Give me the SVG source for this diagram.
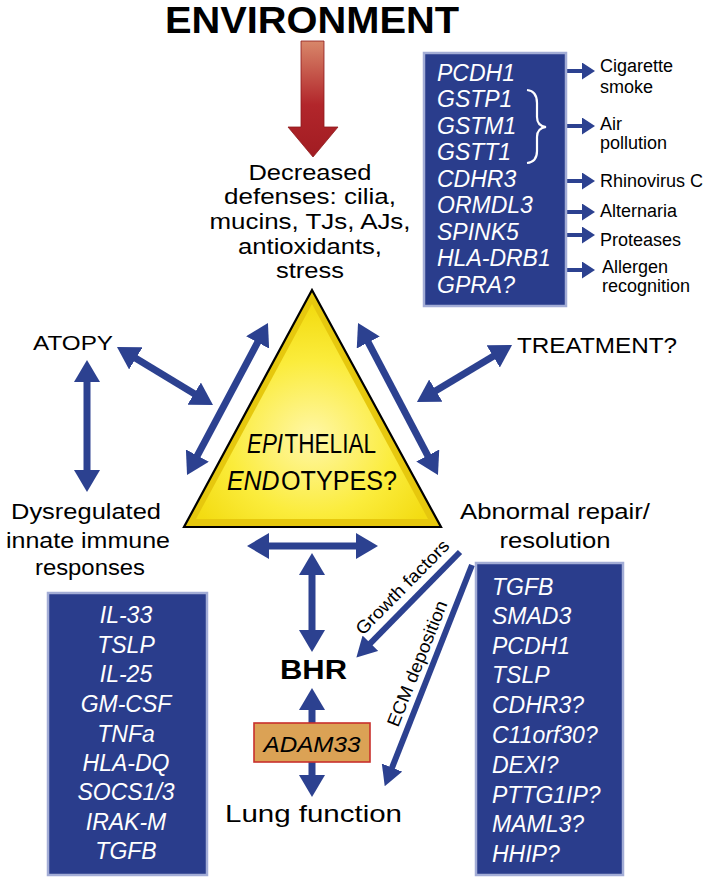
<svg xmlns="http://www.w3.org/2000/svg" width="705" height="878" viewBox="0 0 705 878">
<defs>
<style>
text{font-family:"Liberation Sans",Arial,Helvetica,sans-serif;fill:#000}
.lbl{font-size:22px}
.ctr{text-anchor:middle}
.gene{font-size:23px;font-style:italic;fill:#fff}
.exp{font-size:18px}
.box{fill:#2a3d8c;stroke:#a3add6;stroke-width:2.5}
.arr{stroke:#2c4190;stroke-width:7;fill:none}
.arr2{stroke:#2c4190;stroke-width:6;fill:none}
.sm{stroke:#2c4190;stroke-width:4;fill:none}
.tri{font-size:27px}
</style>
<marker id="hd" markerUnits="userSpaceOnUse" markerWidth="22" markerHeight="26" viewBox="0 0 22 26" refX="4" refY="13" orient="auto-start-reverse"><path d="M0,0 L22,13 L0,26 Z" fill="#2c4190"/></marker>
<marker id="hd2" markerUnits="userSpaceOnUse" markerWidth="20" markerHeight="22" viewBox="0 0 20 22" refX="4" refY="11" orient="auto"><path d="M0,0 L20,11 L0,22 Z" fill="#2c4190"/></marker>
<marker id="hs" markerUnits="userSpaceOnUse" markerWidth="13" markerHeight="17" viewBox="0 0 13 17" refX="3" refY="8.5" orient="auto"><path d="M0,0 L13,8.5 L0,17 Z" fill="#2c4190"/></marker>
<linearGradient id="red" x1="0" y1="0" x2="0" y2="1"><stop offset="0" stop-color="#d8876a"/><stop offset="0.55" stop-color="#b2262b"/><stop offset="1" stop-color="#a11c22"/></linearGradient>
<radialGradient id="yel" cx="0.5" cy="0.62" r="0.6"><stop offset="0" stop-color="#fff7a8"/><stop offset="0.6" stop-color="#fbec3c"/><stop offset="1" stop-color="#f3dc12"/></radialGradient>
</defs>
<rect width="705" height="878" fill="#fff"/>

<g id="connectors">
<polygon points="301,41 324,41 324,127 338,127 313,157 288,127 301,127" fill="url(#red)" stroke="#8e1a1c" stroke-width="0.8"/>
<line class="arr" x1="132.4" y1="356.3" x2="197.6" y2="395.7" marker-start="url(#hd)" marker-end="url(#hd)"/>
<line class="arr" x1="87" y1="378" x2="87" y2="474" marker-start="url(#hd)" marker-end="url(#hd)"/>
<line class="arr" x1="259.5" y1="338.9" x2="195.5" y2="459.1" marker-start="url(#hd)" marker-end="url(#hd)"/>
<line class="arr" x1="366.4" y1="338.9" x2="429.6" y2="459.1" marker-start="url(#hd)" marker-end="url(#hd)"/>
<line class="arr" x1="496.6" y1="354.3" x2="432.4" y2="392.7" marker-start="url(#hd)" marker-end="url(#hd)"/>
<line class="arr" x1="265" y1="546" x2="360" y2="546" marker-start="url(#hd)" marker-end="url(#hd)"/>
<line class="arr" x1="312" y1="571" x2="312" y2="634" marker-start="url(#hd)" marker-end="url(#hd)"/>
<line class="arr" x1="312" y1="706" x2="312" y2="779" marker-start="url(#hd)" marker-end="url(#hd)"/>
<line class="arr2" x1="460" y1="552" x2="367.6" y2="646.1" marker-end="url(#hd2)"/>
<line class="arr2" x1="472" y1="565" x2="390.6" y2="771.3" marker-end="url(#hd2)"/>
<line class="sm" x1="566" y1="71" x2="585" y2="71" marker-end="url(#hs)"/>
<line class="sm" x1="566" y1="126" x2="585" y2="126" marker-end="url(#hs)"/>
<line class="sm" x1="566" y1="181" x2="585" y2="181" marker-end="url(#hs)"/>
<line class="sm" x1="566" y1="212" x2="585" y2="212" marker-end="url(#hs)"/>
<line class="sm" x1="566" y1="235" x2="585" y2="235" marker-end="url(#hs)"/>
<line class="sm" x1="566" y1="270" x2="585" y2="270" marker-end="url(#hs)"/>
<text class="exp" transform="translate(363,636) rotate(-45.5)" textLength="125" lengthAdjust="spacingAndGlyphs">Growth factors</text>
<text class="exp" transform="translate(398,728) rotate(-68.2)" textLength="134" lengthAdjust="spacingAndGlyphs">ECM deposition</text>
</g>

<g id="environment">
<text x="312" y="33" class="ctr" font-size="36" font-weight="bold" textLength="294" lengthAdjust="spacingAndGlyphs">ENVIRONMENT</text>
</g>

<g id="defenses">
<text class="lbl ctr" x="310" y="180" textLength="123" lengthAdjust="spacingAndGlyphs">Decreased</text>
<text class="lbl ctr" x="310" y="204" textLength="172" lengthAdjust="spacingAndGlyphs">defenses: cilia,</text>
<text class="lbl ctr" x="310" y="229" textLength="201" lengthAdjust="spacingAndGlyphs">mucins, TJs, AJs,</text>
<text class="lbl ctr" x="310" y="254" textLength="144" lengthAdjust="spacingAndGlyphs">antioxidants,</text>
<text class="lbl ctr" x="310" y="278" textLength="68" lengthAdjust="spacingAndGlyphs">stress</text>
</g>

<g id="genes-top">
<rect class="box" x="424" y="53" width="142" height="253"/>
<text class="gene" x="437" y="80.5">PCDH1</text>
<text class="gene" x="437" y="107">GSTP1</text>
<text class="gene" x="437" y="133.5">GSTM1</text>
<text class="gene" x="437" y="160">GSTT1</text>
<text class="gene" x="437" y="186.5">CDHR3</text>
<text class="gene" x="437" y="213">ORMDL3</text>
<text class="gene" x="437" y="239.5">SPINK5</text>
<text class="gene" x="437" y="266">HLA-DRB1</text>
<text class="gene" x="437" y="292.5">GPRA?</text>
<path d="M527,90 Q537,91 537,103 L537,117 Q537,126 546,127 Q537,128 537,137 L537,151 Q537,162 527,163" fill="none" stroke="#fff" stroke-width="2.2"/>
</g>

<g id="exposures">
<text class="exp" x="600" y="72">Cigarette</text>
<text class="exp" x="600" y="93">smoke</text>
<text class="exp" x="600" y="130">Air</text>
<text class="exp" x="600" y="149">pollution</text>
<text class="exp" x="600" y="187">Rhinovirus C</text>
<text class="exp" x="600" y="217">Alternaria</text>
<text class="exp" x="600" y="246">Proteases</text>
<text class="exp" x="602" y="273">Allergen</text>
<text class="exp" x="602" y="292">recognition</text>
</g>

<g id="triangle">
<polygon points="312,290 184,527 441,527" fill="#e6c80e" stroke="#000" stroke-width="2.2"/>
<polygon points="312,304 196,519 428,519" fill="url(#yel)"/>
<text class="tri" x="247" y="453" font-style="italic" textLength="36" lengthAdjust="spacingAndGlyphs">EPI</text>
<text class="tri" x="284.5" y="453" textLength="91.5" lengthAdjust="spacingAndGlyphs">THELIAL</text>
<text class="tri" x="227" y="490" font-style="italic" textLength="52.5" lengthAdjust="spacingAndGlyphs">END</text>
<text class="tri" x="281" y="490" textLength="116" lengthAdjust="spacingAndGlyphs">OTYPES?</text>
</g>

<g id="atopy">
<text x="33" y="350" font-size="21" textLength="80" lengthAdjust="spacingAndGlyphs">ATOPY</text>
</g>

<g id="treatment">
<text x="517" y="353" font-size="22" textLength="160" lengthAdjust="spacingAndGlyphs">TREATMENT?</text>
</g>

<g id="dysregulated">
<text class="lbl ctr" x="86" y="519" textLength="150" lengthAdjust="spacingAndGlyphs">Dysregulated</text>
<text class="lbl ctr" x="88" y="548" textLength="164" lengthAdjust="spacingAndGlyphs">innate immune</text>
<text class="lbl ctr" x="90" y="575" textLength="110" lengthAdjust="spacingAndGlyphs">responses</text>
</g>

<g id="abnormal">
<text class="lbl ctr" x="555" y="519" textLength="190" lengthAdjust="spacingAndGlyphs">Abnormal repair/</text>
<text class="lbl ctr" x="555" y="548" textLength="111" lengthAdjust="spacingAndGlyphs">resolution</text>
</g>

<g id="genes-left">
<rect class="box" x="48" y="593" width="159" height="282"/>
<text class="gene ctr" x="126" y="623">IL-33</text>
<text class="gene ctr" x="126" y="653">TSLP</text>
<text class="gene ctr" x="126" y="682">IL-25</text>
<text class="gene ctr" x="126" y="712">GM-CSF</text>
<text class="gene ctr" x="126" y="742">TNFa</text>
<text class="gene ctr" x="126" y="771">HLA-DQ</text>
<text class="gene ctr" x="126" y="800">SOCS1/3</text>
<text class="gene ctr" x="126" y="830">IRAK-M</text>
<text class="gene ctr" x="126" y="859">TGFB</text>
</g>

<g id="genes-right">
<rect class="box" x="476" y="563" width="147" height="312"/>
<text class="gene" x="492" y="595">TGFB</text>
<text class="gene" x="492" y="624">SMAD3</text>
<text class="gene" x="492" y="654">PCDH1</text>
<text class="gene" x="492" y="683">TSLP</text>
<text class="gene" x="492" y="713">CDHR3?</text>
<text class="gene" x="492" y="743">C11orf30?</text>
<text class="gene" x="492" y="773">DEXI?</text>
<text class="gene" x="492" y="803">PTTG1IP?</text>
<text class="gene" x="492" y="832">MAML3?</text>
<text class="gene" x="492" y="862">HHIP?</text>
</g>

<g id="bhr">
<text x="280" y="679" font-size="27" font-weight="bold" textLength="67" lengthAdjust="spacingAndGlyphs">BHR</text>
</g>

<g id="adam33">
<rect x="254" y="723" width="116" height="39" fill="#dba255" stroke="#c8302c" stroke-width="1.6"/>
<text class="ctr" x="312" y="752" font-size="22" font-style="italic" textLength="97" lengthAdjust="spacingAndGlyphs">ADAM33</text>
</g>

<g id="lung">
<text x="225" y="822" font-size="24" textLength="177" lengthAdjust="spacingAndGlyphs">Lung function</text>
</g>
</svg>
